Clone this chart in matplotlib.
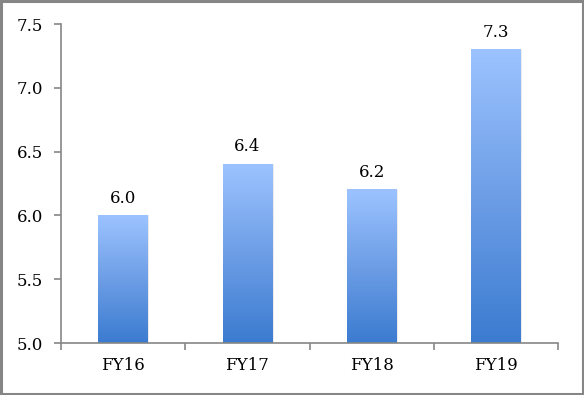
import numpy as np
import matplotlib
matplotlib.use("Agg")
import matplotlib.pyplot as plt
from matplotlib.colors import LinearSegmentedColormap

years = ["FY16", "FY17", "FY18", "FY19"]
values = [6.0, 6.4, 6.2, 7.3]

plt.rcParams['font.family'] = ['DejaVu Serif']

fig = plt.figure(figsize=(5.84, 3.95), dpi=100)
ax = fig.add_axes([0.1045, 0.1316, 0.851, 0.8074])

cmap = LinearSegmentedColormap.from_list("bar", ["#3b7bd0", "#6d9ee6", "#9cc3ff"])
grad = np.linspace(0, 1, 256).reshape(-1, 1)
width = 0.4
ymin = 5.0
x = np.arange(len(years))
for xi, v in zip(x, values):
    # soft shadow
    ax.bar(xi + 0.012, v - ymin, width, bottom=ymin, color="#000000", alpha=0.08, zorder=1)
    ax.imshow(grad, cmap=cmap, origin="lower", aspect="auto",
              extent=(xi - width / 2, xi + width / 2, ymin, v), zorder=2)
    ax.text(xi, v + 0.07, f"{v:.1f}", ha="center", va="bottom", fontsize=12)

ax.set_xlim(-0.5, len(years) - 0.5)
ax.set_ylim(5.0, 7.5)
ax.set_yticks(np.arange(5.0, 7.51, 0.5))
ax.set_yticklabels([f"{t:.1f}" for t in np.arange(5.0, 7.51, 0.5)])
ax.set_xticks(x)
ax.set_xticklabels(years)
ax.set_xticks(np.arange(-0.5, len(years), 1), minor=True)
ax.tick_params(axis="x", which="major", length=0, pad=10, labelsize=12)
ax.tick_params(axis="x", which="minor", length=5, color="#868686", width=1.2)
ax.tick_params(axis="y", length=5, color="#868686", width=1.2, labelsize=12, pad=8)

for s in ["top", "right"]:
    ax.spines[s].set_visible(False)
for s in ["left", "bottom"]:
    ax.spines[s].set_color("#868686")
    ax.spines[s].set_linewidth(1.2)

fig.patches.append(plt.Rectangle((0.002, 0.003), 0.996, 0.994, transform=fig.transFigure,
                                 fill=False, edgecolor="#868686", linewidth=2.2))

fig.savefig("out.png", dpi=100)
